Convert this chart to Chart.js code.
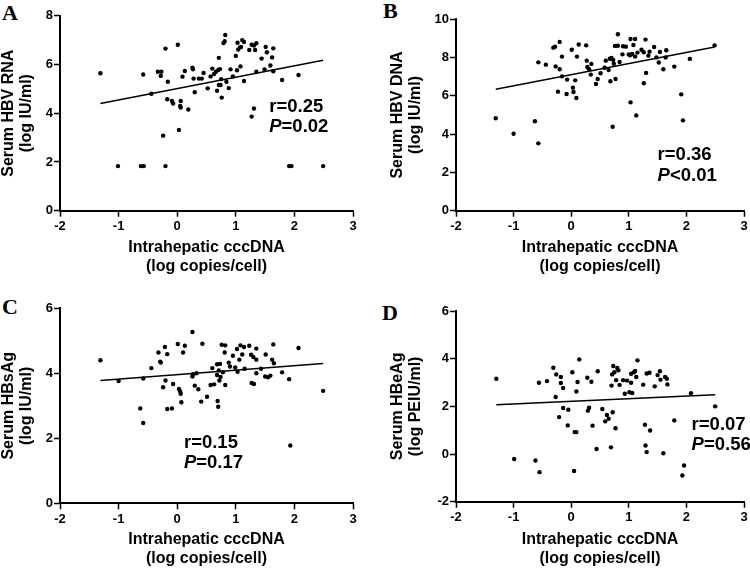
<!DOCTYPE html>
<html>
<head>
<meta charset="utf-8">
<script src="https://cdn.jsdelivr.net/npm/chart.js@4.4.1/dist/chart.umd.min.js"></script>
<style>
  body { margin: 0; width: 750px; height: 568px; overflow: hidden; background: #fff; position: relative; }
  canvas { position: absolute; }
  .tag { position: absolute; font: bold 22px "Liberation Serif", "Times New Roman", serif; line-height: 1; color: #000; }
</style>
</head>
<body>
<div class="tag" style="left:2px;top:2px">A</div>
<div class="tag" style="left:383px;top:0px">B</div>
<div class="tag" style="left:2px;top:296px">C</div>
<div class="tag" style="left:382px;top:302px">D</div>
<canvas id="chartA" width="370" height="284" style="left:0;top:0"></canvas>
<canvas id="chartB" width="361" height="284" style="left:389px;top:0"></canvas>
<canvas id="chartC" width="370" height="294" style="left:0;top:284px"></canvas>
<canvas id="chartD" width="361" height="294" style="left:389px;top:284px"></canvas>
<script>
const FONT = '"Liberation Sans", Arial, sans-serif';

// x: intrahepatic cccDNA (log copies/cell), y: serum marker
const cccA = [-1.31,-1.01,-0.62,-0.57,-0.20,-0.58,-0.44,-0.33,-0.27,-0.28,
  -0.20,-0.16,-0.17,-0.24,-0.09,-0.07,0.01,0.03,0.06,0.06,
  0.09,0.13,0.05,0.19,0.26,0.27,0.28,0.30,0.37,0.42,
  0.45,0.52,0.60,0.57,0.63,0.66,0.68,0.71,0.71,0.70,
  0.73,0.75,0.76,0.74,0.79,0.82,0.81,0.84,0.88,0.91,
  0.95,1.00,1.02,1.03,1.04,1.07,1.08,1.09,1.11,1.14,
  1.14,1.23,1.27,1.31,1.33,1.35,1.27,1.31,1.35,1.44,
  1.49,1.51,1.53,1.59,1.62,1.64,1.64,1.79,1.91,1.95,
  2.07,2.49];
const rnaA = [5.64,1.83,1.83,1.83,1.83,5.59,4.80,5.70,5.70,5.53,
  6.65,5.29,4.57,3.08,4.50,4.40,6.81,3.31,4.50,4.23,
  5.50,5.73,4.30,4.15,5.87,5.80,5.42,4.86,5.42,5.42,
  5.65,5.02,5.83,5.51,5.61,5.70,4.92,5.16,6.27,5.77,
  5.81,5.40,4.64,5.16,6.88,7.21,6.95,5.29,5.03,5.80,
  5.51,6.35,5.76,6.89,6.61,6.70,5.92,6.72,7.00,6.92,
  5.32,6.59,6.81,6.78,6.59,6.87,3.86,4.19,5.70,6.24,
  5.80,6.72,6.50,5.96,6.29,6.66,5.72,5.36,1.83,1.83,
  5.57,1.83];

const cccB = [-1.31,-1.00,-0.63,-0.57,-0.57,-0.44,-0.31,-0.28,-0.27,-0.20,
  -0.20,-0.16,-0.16,-0.23,-0.07,-0.08,0.01,0.03,0.04,0.07,
  0.09,0.10,0.13,0.26,0.27,0.28,0.31,0.35,0.34,0.43,
  0.46,0.51,0.58,0.60,0.65,0.67,0.68,0.70,0.72,0.73,
  0.74,0.77,0.76,0.81,0.81,0.84,0.89,0.90,0.95,1.00,
  1.03,1.02,1.03,1.06,1.08,1.11,1.11,1.13,1.15,1.22,
  1.26,1.26,1.29,1.30,1.34,1.36,1.44,1.48,1.52,1.54,
  1.60,1.64,1.65,1.79,1.91,1.94,2.06,2.49];
const dnaB = [4.83,4.02,4.67,3.52,7.75,7.63,8.52,8.57,7.54,8.82,
  7.39,8.05,7.02,6.22,6.85,6.10,8.41,6.43,6.20,6.81,
  5.89,8.05,8.68,8.64,7.84,7.51,7.39,7.67,7.11,6.62,
  6.88,7.18,7.47,7.84,7.35,7.94,6.76,7.98,4.39,7.87,
  7.68,6.88,8.61,9.22,8.62,7.77,8.17,8.59,8.57,8.17,
  8.97,8.12,5.66,8.19,8.66,8.97,8.05,4.98,8.26,8.41,
  8.28,6.66,8.94,7.20,8.10,8.31,8.55,8.01,7.74,8.29,
  7.39,8.01,8.38,7.53,6.08,4.72,7.93,8.64];

const cccC = [-1.31,-1.00,-0.58,-0.63,-0.58,-0.44,-0.32,-0.29,-0.28,-0.24,
  -0.20,-0.21,-0.17,-0.17,-0.09,-0.07,0.01,0.03,0.05,0.06,
  0.07,0.10,0.13,0.26,0.26,0.27,0.30,0.33,0.36,0.41,
  0.43,0.51,0.57,0.60,0.63,0.68,0.68,0.69,0.70,0.71,
  0.73,0.72,0.74,0.78,0.76,0.82,0.81,0.82,0.88,0.90,
  0.95,0.99,1.02,1.03,1.06,1.08,1.11,1.14,1.15,1.23,
  1.26,1.30,1.27,1.31,1.35,1.35,1.35,1.43,1.51,1.50,
  1.55,1.59,1.62,1.64,1.65,1.79,1.91,1.93,2.07,2.49];
const hbsC = [4.40,3.76,3.84,2.92,2.47,4.16,4.64,4.36,4.33,3.57,
  3.78,4.81,4.59,2.90,2.92,3.67,4.90,3.52,3.44,3.37,
  3.11,4.64,4.85,5.27,3.90,3.97,3.62,4.00,3.51,3.13,
  4.91,3.28,3.64,4.16,3.66,3.95,4.28,3.15,2.97,4.09,
  4.29,3.78,3.89,4.03,4.88,4.86,4.64,3.64,4.33,4.21,
  4.54,4.18,4.75,4.05,4.42,4.86,4.58,4.81,4.14,4.85,
  4.57,4.50,3.70,3.67,4.76,4.42,4.00,4.14,4.58,3.90,
  3.88,3.93,4.42,4.89,4.31,4.03,3.82,1.78,4.78,3.46];

const cccD = [-1.30,-0.99,-0.62,-0.55,-0.56,-0.42,-0.31,-0.26,-0.27,-0.21,
  -0.18,-0.18,-0.14,-0.14,-0.06,-0.05,0.02,0.05,0.06,0.09,
  0.09,0.11,0.14,0.28,0.29,0.31,0.35,0.37,0.44,0.46,
  0.54,0.59,0.62,0.65,0.69,0.70,0.72,0.71,0.73,0.75,
  0.77,0.78,0.80,0.82,0.84,0.90,0.93,0.97,1.01,1.04,
  1.04,1.06,1.09,1.11,1.13,1.15,1.25,1.28,1.29,1.31,
  1.31,1.36,1.37,1.45,1.50,1.54,1.55,1.60,1.63,1.66,
  1.67,1.79,1.93,1.96,2.08,2.50];
const hbeD = [3.16,-0.21,-0.27,-0.76,2.99,3.06,3.62,3.34,2.39,1.55,
  3.23,2.98,2.77,1.93,1.20,1.86,3.43,-0.71,0.92,0.92,
  2.62,3.02,3.97,3.20,1.82,1.94,3.03,1.19,0.21,3.47,
  1.89,1.37,1.64,1.48,0.28,2.87,1.75,3.34,3.69,3.43,
  1.08,3.10,3.61,3.51,2.90,3.10,2.53,3.08,2.59,3.37,
  2.99,2.56,3.43,3.48,3.23,3.93,2.91,1.23,0.36,0.08,
  3.38,3.41,0.99,2.84,3.31,3.47,3.12,0.03,3.23,3.16,
  2.92,1.41,-0.90,-0.48,2.55,2.00];

// regression line end points [x0, y0, x1, y1]
const fitA = [-1.31, 4.40, 2.49, 6.17];
const fitB = [-1.31, 6.34, 2.49, 8.55];
const fitC = [-1.31, 3.78, 2.49, 4.30];
const fitD = [-1.30, 2.07, 2.50, 2.49];

const statsA = ['r=0.25', 'P', '=0.02'];
const statsB = ['r=0.36', 'P', '<0.01'];
const statsC = ['r=0.15', 'P', '=0.17'];
const statsD = ['r=0.07', 'P', '=0.56'];

const xTitle = ['Intrahepatic cccDNA', '(log copies/cell)'];

const statPlugin = {
  id: 'statText',
  afterDatasetsDraw(chart, args, opts) {
    const {ctx, scales: {x, y}} = chart;
    ctx.save();
    ctx.fillStyle = '#000';
    ctx.textBaseline = 'middle';
    ctx.textAlign = 'left';
    let px = x.getPixelForValue(opts.x);
    ctx.font = 'bold 18.5px ' + FONT;
    ctx.fillText(opts.text[0], px, y.getPixelForValue(opts.y[0]));
    let py = y.getPixelForValue(opts.y[1]);
    ctx.font = 'italic bold 18.5px ' + FONT;
    ctx.fillText(opts.text[1], px, py);
    px += ctx.measureText(opts.text[1]).width;
    ctx.font = 'bold 18.5px ' + FONT;
    ctx.fillText(opts.text[2], px, py);
    ctx.restore();
  }
};

function makeChart(id, p) {
  const pts = p.xs.map((v, i) => ({x: v, y: p.ys[i]}));
  const fit = [{x: p.fit[0], y: p.fit[1]}, {x: p.fit[2], y: p.fit[3]}];
  const tickFont = {family: FONT, size: 13, weight: 'bold'};
  return new Chart(document.getElementById(id).getContext('2d'), {
    type: 'scatter',
    data: {
      datasets: [{
        data: pts,
        pointRadius: 2.2,
        pointBackgroundColor: '#000',
        pointBorderWidth: 0
      }, {
        type: 'line',
        data: fit,
        borderColor: '#000',
        borderWidth: 1.5,
        pointRadius: 0,
        fill: false
      }]
    },
    options: {
      responsive: false,
      animation: false,
      devicePixelRatio: 1,
      layout: {padding: {top: p.padTop, right: p.padRight, left: 0, bottom: 0}},
      plugins: {
        legend: {display: false},
        tooltip: {enabled: false},
        statText: p.stat
      },
      scales: {
        x: {
          type: 'linear', min: -2, max: 3,
          ticks: {stepSize: 1, color: '#000', font: tickFont, padding: 2},
          grid: {drawOnChartArea: false, tickLength: 6, tickColor: '#000', tickWidth: 1.5},
          border: {color: '#000', width: 2},
          title: {display: true, text: xTitle, color: '#000',
            font: {family: FONT, size: 16, weight: 'bold', lineHeight: 19 / 16},
            padding: {top: 0, bottom: p.titlePad}},
          afterFit(s) { s.height = p.xHeight; }
        },
        y: {
          type: 'linear', min: p.yMin, max: p.yMax,
          ticks: {stepSize: 2, color: '#000', font: tickFont, padding: 1},
          grid: {drawOnChartArea: false, tickLength: 6, tickColor: '#000', tickWidth: 1.5},
          border: {color: '#000', width: 2},
          title: {display: true, text: p.yTitle, color: '#000',
            font: {family: FONT, size: 16, weight: 'bold', lineHeight: 18 / 16},
            padding: {top: 0, bottom: 0}},
          afterFit(s) { s.width = p.yWidth; }
        }
      }
    },
    plugins: [statPlugin]
  });
}

makeChart('chartA', {xs: cccA, ys: rnaA, fit: fitA, yMin: 0, yMax: 8,
  yTitle: ['Serum HBV RNA', '(log IU/ml)'], yWidth: 60, padTop: 15.7, padRight: 17,
  xHeight: 73.3, titlePad: 7.8, stat: {x: 1.57, y: [4.25, 3.42], text: statsA}});
makeChart('chartB', {xs: cccB, ys: dnaB, fit: fitB, yMin: 0, yMax: 10,
  yTitle: ['Serum HBV DNA', '(log IU/ml)'], yWidth: 67, padTop: 19.3, padRight: 6,
  xHeight: 73.3, titlePad: 7.8, stat: {x: 1.50, y: [2.91, 1.81], text: statsB}});
makeChart('chartC', {xs: cccC, ys: hbsC, fit: fitC, yMin: 0, yMax: 6,
  yTitle: ['Serum HBsAg', '(log IU/ml)'], yWidth: 60, padTop: 24.3, padRight: 17,
  xHeight: 74.7, titlePad: 9.5, stat: {x: 0.115, y: [1.86, 1.24], text: statsC}});
makeChart('chartD', {xs: cccD, ys: hbeD, fit: fitD, yMin: -2, yMax: 6,
  yTitle: ['Serum HBeAg', '(log PEIU/ml)'], yWidth: 67, padTop: 27, padRight: 6,
  xHeight: 76.3, titlePad: 9.5, stat: {x: 2.09, y: [1.23, 0.40], text: statsD}});
</script>
</body>
</html>
